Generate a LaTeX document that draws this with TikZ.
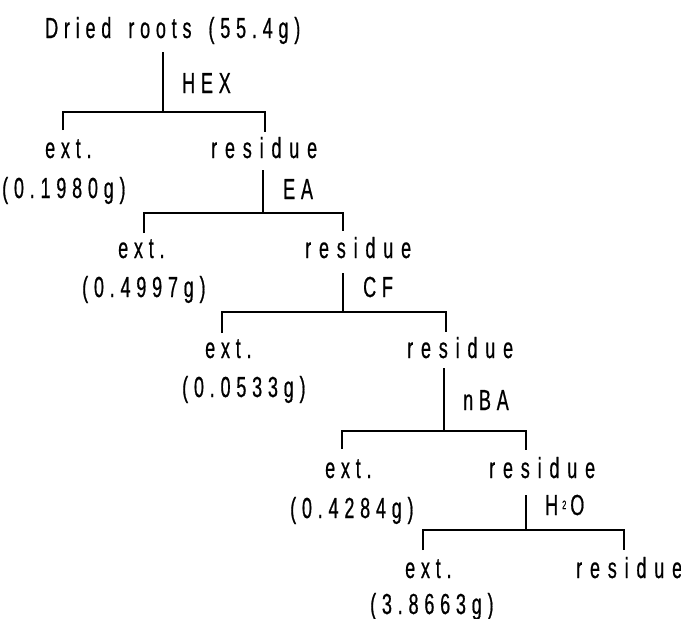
\documentclass[tikz,border=0pt]{standalone}
\usepackage{fontspec}
\setmainfont{Liberation Sans}[FakeStretch=0.62, LetterSpace=20, FakeBold=0.6]
\newcommand{\gap}{\hspace{17pt}}
\begin{document}
\begin{tikzpicture}[x=1pt, y=-1pt,
  lbl/.style={anchor=base west, inner sep=0pt, font=\fontsize{29}{32}\selectfont},
  wide/.style={lbl, font=\fontsize{29}{32}\selectfont\addfontfeatures{LetterSpace=27}},
  tree/.style={line width=1.3pt}]
\useasboundingbox (0,0) rectangle (681,619);

% texts
\node[lbl]  (root) at (45,38)  {Dried\gap roots\gap (55.4g)};
\node[lbl]  (hex)  at (182,93) {HEX};
\node[lbl]  (ext1) at (45,158) {ext.};
\node[lbl]  (val1) at (2,198)  {(0.1980g)};
\node[wide] (res1) at (211,158) {residue};
\node[lbl]  (ea)   at (283,199) {EA};
\node[lbl]  (ext2) at (118,258) {ext.};
\node[lbl]  (val2) at (82,297)  {(0.4997g)};
\node[wide] (res2) at (305,258) {residue};
\node[lbl]  (cf)   at (363,297) {CF};
\node[lbl]  (ext3) at (205,358) {ext.};
\node[lbl]  (val3) at (182,397) {(0.0533g)};
\node[wide] (res3) at (407,358) {residue};
\node[lbl]  (nba)  at (463,410) {nBA};
\node[lbl]  (ext4) at (325,478) {ext.};
\node[lbl]  (val4) at (290,518) {(0.4284g)};
\node[wide] (res4) at (489,478) {residue};
\node[lbl]  (h2o)  at (545,515) {H\hspace{4pt}\raisebox{6pt}{\fontsize{12}{12}\selectfont 2}\hspace{4pt}O};
\node[lbl]  (ext5) at (405,578) {ext.};
\node[lbl]  (val5) at (370,614) {(3.8663g)};
\node[wide] (res5) at (576,578) {residue};

% split points: stem top, junction, left and right drop ends
\coordinate (s0) at (163,52);  \coordinate (j0) at (163,112);
\coordinate (a0) at (63,130);  \coordinate (b0) at (265,132);
\coordinate (s1) at (263,170); \coordinate (j1) at (263,213);
\coordinate (a1) at (144,233); \coordinate (b1) at (343,231);
\coordinate (s2) at (343,273); \coordinate (j2) at (343,312);
\coordinate (a2) at (222,333); \coordinate (b2) at (446,332);
\coordinate (s3) at (444,368); \coordinate (j3) at (444,431);
\coordinate (a3) at (342,449); \coordinate (b3) at (526,450);
\coordinate (s4) at (526,495); \coordinate (j4) at (526,530);
\coordinate (a4) at (423,550); \coordinate (b4) at (624,550);

\foreach \k in {0,...,4}{
  \draw[tree] (s\k) -- (j\k);
  \draw[tree] (a\k) |- (j\k) -| (b\k);
}
\end{tikzpicture}
\end{document}
